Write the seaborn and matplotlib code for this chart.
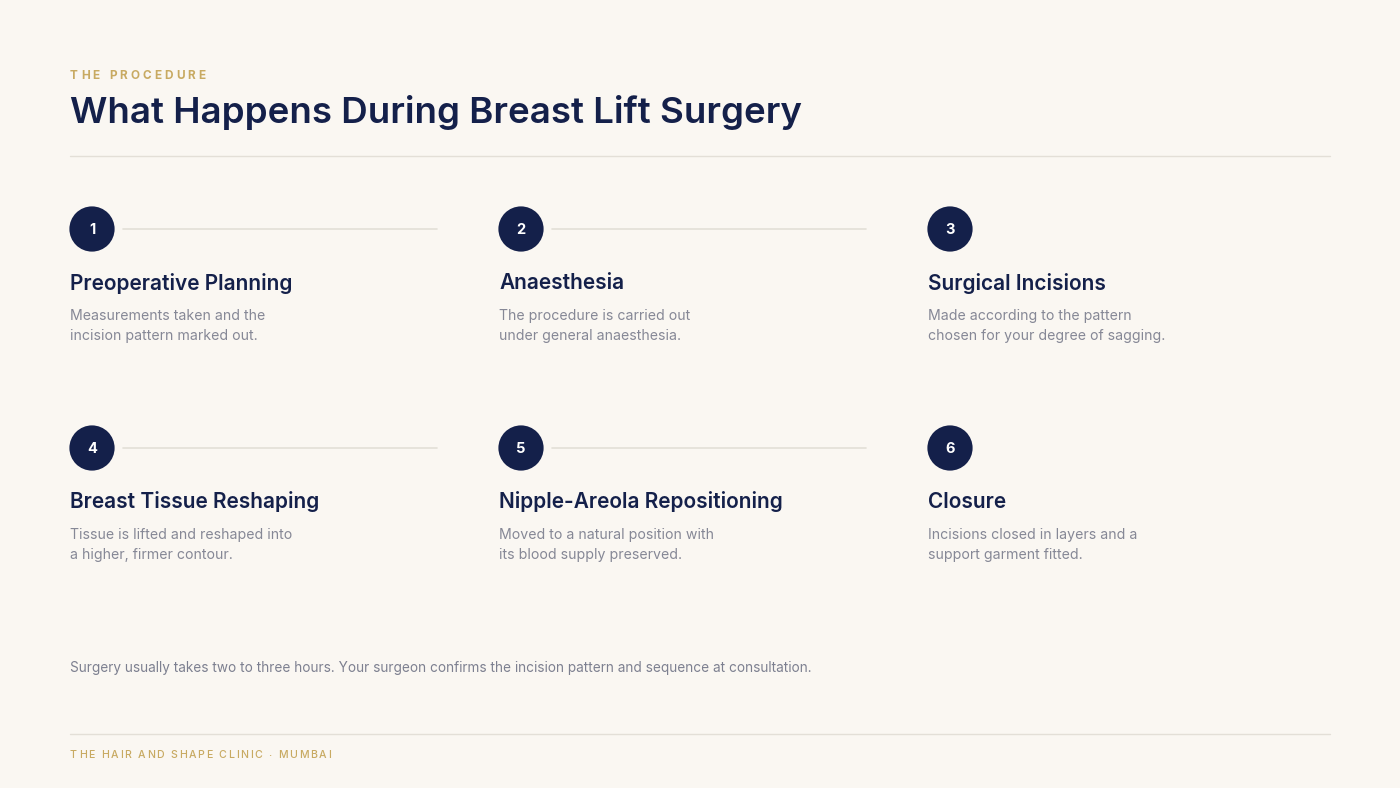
import matplotlib
matplotlib.use("Agg")
import matplotlib.pyplot as plt
import seaborn as sns
import pandas as pd

sns.set_theme(style="white")
plt.rcParams['font.family'] = ['Inter', 'DejaVu Sans']

BG = "#FAF7F2"
NAVY = "#14204A"
GOLD = "#C8AA62"
GREY = "#868896"
RULE = "#E3DFD7"

kicker = "THE PROCEDURE"
title = "What Happens During Breast Lift Surgery"
step_nums = ["1", "2", "3", "4", "5", "6"]
step_titles = ["Preoperative Planning", "Anaesthesia", "Surgical Incisions",
               "Breast Tissue Reshaping", "Nipple-Areola Repositioning", "Closure"]
step_text = [
    "Measurements taken and the\nincision pattern marked out.",
    "The procedure is carried out\nunder general anaesthesia.",
    "Made according to the pattern\nchosen for your degree of sagging.",
    "Tissue is lifted and reshaped into\na higher, firmer contour.",
    "Moved to a natural position with\nits blood supply preserved.",
    "Incisions closed in layers and a\nsupport garment fitted.",
]
note = ("Surgery usually takes two to three hours. Your surgeon confirms the "
        "incision pattern and sequence at consultation.")
footer = "THE HAIR AND SHAPE CLINIC \u00b7 MUMBAI"

col_x = [70, 499, 928]
row_y = [229, 448]

fig = plt.figure(figsize=(14, 7.88), dpi=100, facecolor=BG)
ax = fig.add_axes([0, 0, 1, 1])
ax.set_xlim(0, 1400)
ax.set_ylim(788, 0)
ax.axis("off")
ax.set_facecolor(BG)

renderer = fig.canvas.get_renderer()


def text_width(s, **kw):
    t = ax.text(0, 0, s, **kw)
    w = t.get_window_extent(renderer).width
    t.remove()
    return w


def tracked(x, y, s, track, **kw):
    bar = text_width("|", **kw)
    for i, ch in enumerate(s):
        off = text_width(s[:i] + "|", **kw) - bar if i else 0
        ax.text(x + off + i * track, y, ch, **kw)


# header
tracked(70, 76, kicker, 3.1, fontsize=8.5, color=GOLD, fontweight="bold",
        va="center", ha="left")
ax.text(70, 112, title, fontsize=26.4, color=NAVY, fontweight="semibold",
        va="center", ha="left")
ax.plot([70, 1330], [156, 156], color=RULE, lw=1)

# steps
df = pd.DataFrame({
    "num": step_nums,
    "x": [col_x[i % 3] + 22 for i in range(6)],
    "y": [row_y[i // 3] for i in range(6)],
})
sns.scatterplot(data=df, x="x", y="y", s=1060, color=NAVY, edgecolor="none",
                ax=ax, legend=False, zorder=3)
for i in range(6):
    cx = col_x[i % 3]
    cy = row_y[i // 3]
    ax.text(cx + 22, cy + 1, step_nums[i], color="white", fontsize=10.5,
            fontweight="bold", ha="center", va="center", zorder=4)
    if i % 3 < 2:
        ax.plot([cx + 53, cx + 367], [cy, cy], color=RULE, lw=1.2, zorder=1)
    ax.text(cx, cy + 54, step_titles[i], color=NAVY, fontsize=15,
            fontweight="semibold", ha="left", va="center")
    ax.text(cx, cy + 97, step_text[i], color=GREY, fontsize=10.2,
            ha="left", va="center", linespacing=1.62)

# note and footer
ax.text(70, 668, note, color="#7D8090", fontsize=9.8, ha="left", va="center")
ax.plot([70, 1330], [734, 734], color=RULE, lw=1)
tracked(70, 755, footer, 1.7, fontsize=7.6, color=GOLD, fontweight="medium",
        va="center", ha="left")

fig.savefig("out.png", dpi=100, facecolor=BG)
